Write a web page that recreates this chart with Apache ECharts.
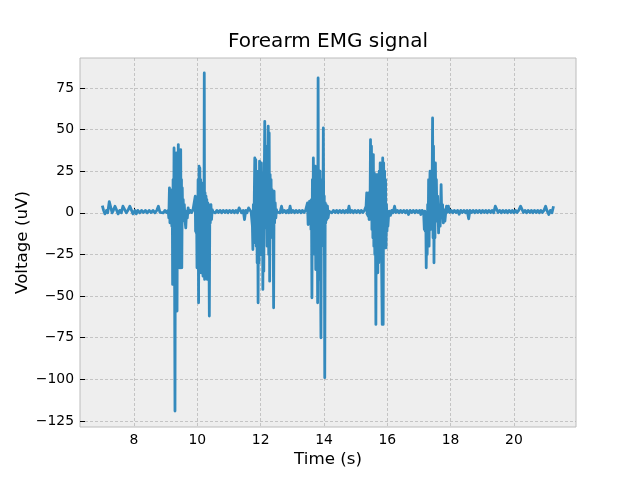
<!DOCTYPE html>
<html>
<head>
<meta charset="utf-8">
<title>Forearm EMG signal</title>
<script src="https://cdn.jsdelivr.net/npm/echarts@6/dist/echarts.min.js"></script>
<style>
html, body { margin: 0; padding: 0; background: #fff; }
#main { width: 640px; height: 480px; }
</style>
</head>
<body>
<div id="main"></div>
<script>
var xTicks = [8, 10, 12, 14, 16, 18, 20];
var yTicks = [-125, -100, -75, -50, -25, 0, 25, 50, 75];

// [time (s), voltage (uV)], rest stretches and bursts
var rest1 = [[7.00,4.4],[7.04,1.5],[7.08,-0.6],[7.13,1.5],[7.17,0],[7.22,6.8],[7.27,6.6],[7.31,0],[7.35,1.5],
	[7.40,4],[7.46,4],[7.50,-0.6],[7.55,1.5],[7.60,0],[7.65,4],[7.71,4],[7.76,0],[7.81,1.5],[7.87,4],[7.92,4],
	[7.97,-0.6],[8.03,1.5],[8.07,-0.6],[8.12,1.5],[8.18,0],[8.24,1.5],[8.30,0.2],[8.36,1.5],[8.42,0],[8.48,1.5],
	[8.54,0.2],[8.60,1.5],[8.66,0],[8.72,1.5],[8.77,4],[8.82,0.3],[8.87,1.5],[8.93,0],[8.98,1.5],[9.03,0.2],[9.08,1.5]];
var burst1 = [[9.10,-3],[9.12,15],[9.135,-6],[9.15,14],[9.165,-5],[9.18,12],[9.195,-8],[9.21,10],[9.22,-43],
	[9.235,20],[9.25,-30],[9.265,39],[9.28,-20],[9.295,-119],[9.31,30],[9.325,-40],[9.335,36],[9.35,-25],[9.36,-59],
	[9.375,25],[9.39,-30],[9.40,41],[9.415,-20],[9.425,35],[9.44,-33],[9.455,30],[9.465,-33],[9.475,38],[9.49,-25],
	[9.50,20],[9.51,-33],[9.525,15],[9.54,-5],[9.555,8],[9.57,-2],[9.59,5],[9.61,-4],[9.635,-9],[9.66,1],[9.685,-3],[9.71,3]];
var rest2 = [[9.74,0],[9.78,1.5],[9.82,0.2],[9.86,1.5],[9.90,0.5]];
var burst2 = [[9.92,1],[9.935,10],[9.945,-11],[9.955,9],[9.965,-12],[9.975,8],[9.99,-33],[10.0,5],[10.01,-20],
	[10.025,20],[10.04,-54],[10.055,28],[10.07,-25],[10.08,27],[10.095,-28],[10.105,20],[10.12,-36],[10.135,18],
	[10.15,-28],[10.165,15],[10.18,-38],[10.195,10],[10.21,-20],[10.22,84],[10.23,-40],[10.245,12],[10.26,-38],
	[10.275,10],[10.29,-30],[10.30,8],[10.315,-40],[10.33,6],[10.345,-20],[10.36,5],[10.38,-62],[10.395,4],
	[10.41,-6],[10.43,5],[10.45,-4],[10.47,2],[10.50,0.5]];
var rest3 = [[10.52,1.5],[10.57,0],[10.62,1.5],[10.67,0.2],[10.72,1.5],[10.77,0],[10.82,1.5],[10.87,0.2],[10.92,1.5],
	[10.97,0],[11.02,1.5],[11.07,0.2],[11.12,1.5],[11.17,0],[11.22,1.5],[11.27,0],[11.32,3],[11.36,3],[11.40,0],
	[11.45,1.5],[11.49,-4],[11.53,1.5],[11.57,0],[11.62,3],[11.66,2],[11.70,0.5]];
var burst3 = [[11.72,1],[11.74,-8],[11.755,-22],[11.77,5],[11.785,-18],[11.80,10],[11.815,33],[11.83,-15],
	[11.845,32],[11.86,-20],[11.875,25],[11.89,-30],[11.905,20],[11.92,-54],[11.935,25],[11.95,-30],[11.965,31],
	[11.98,-20],[11.995,28],[12.01,-25],[12.025,30],[12.04,-20],[12.055,24],[12.07,-46],[12.085,15],[12.10,-35],
	[12.115,20],[12.13,55],[12.145,-9],[12.16,40],[12.175,-5],[12.19,15],[12.205,-20],[12.22,10],[12.24,52],
	[12.255,-25],[12.27,48],[12.285,-41],[12.30,23],[12.315,-15],[12.33,20],[12.345,-10],[12.36,14],[12.375,-8],
	[12.39,10],[12.41,-57],[12.425,13],[12.44,-6],[12.46,6],[12.48,-3],[12.50,2],[12.52,0.5]];
var rest4 = [[12.56,1.5],[12.61,0],[12.66,4],[12.70,0.2],[12.75,1.5],[12.80,0],[12.85,1.5],[12.89,0],[12.93,4],
	[12.97,0.2],[13.02,1.5],[13.07,0],[13.12,1.5],[13.17,0.2],[13.22,1.5],[13.27,0],[13.32,1.5],[13.37,0.2],[13.42,1.5]];
var burst4 = [[13.46,1],[13.48,6],[13.50,-7],[13.515,5],[13.53,-6],[13.545,7],[13.56,-5],[13.575,4],[13.59,-10],
	[13.605,8],[13.62,-51],[13.635,20],[13.65,-20],[13.665,33],[13.68,-15],[13.695,25],[13.71,-25],[13.725,28],
	[13.74,-34],[13.755,20],[13.77,-25],[13.785,15],[13.80,-54],[13.815,81],[13.83,-40],[13.845,20],[13.86,-30],
	[13.875,25],[13.89,-25],[13.905,-75],[13.92,15],[13.935,-20],[13.95,20],[13.965,-15],[13.98,51],[13.995,-10],
	[14.01,10],[14.025,-99],[14.04,6],[14.055,-6],[14.07,5],[14.09,-4],[14.11,4],[14.13,-3],[14.16,1]];
var rest5 = [[14.20,1.5],[14.25,0],[14.30,1.5],[14.35,0.2],[14.40,1.5],[14.45,0],[14.50,1.5],[14.55,0.2],[14.60,1.5],
	[14.65,0],[14.70,1.5],[14.75,0.2],[14.79,4],[14.83,0.2],[14.88,1.5],[14.93,0],[14.98,1.5],[15.03,0.2],[15.08,1.5],
	[15.13,0],[15.18,1.5],[15.23,0.2],[15.28,1.5]];
var burst5 = [[15.30,1],[15.33,4],[15.35,12],[15.365,-1],[15.38,11],[15.395,-2],[15.41,12],[15.425,-4],[15.44,10],
	[15.455,0],[15.47,44],[15.485,-4],[15.50,40],[15.515,-10],[15.53,24],[15.545,-15],[15.56,35],[15.575,-20],
	[15.59,24],[15.605,-25],[15.62,20],[15.64,-67],[15.655,23],[15.67,-20],[15.685,23],[15.70,-36],[15.715,20],
	[15.73,-30],[15.745,25],[15.76,-20],[15.775,30],[15.79,-25],[15.805,28],[15.82,-30],[15.84,-67],[15.855,33],
	[15.87,-67],[15.885,30],[15.90,-20],[15.915,25],[15.93,-21],[15.945,20],[15.96,-21],[15.975,5],[15.99,-11],
	[16.005,-4],[16.02,-8],[16.04,-2],[16.06,1]];
var rest6 = [[16.10,-1.5],[16.14,1.5],[16.18,0],[16.23,4],[16.27,0.2],[16.32,1.5],[16.37,0],[16.42,1.5],[16.47,0.2],
	[16.52,1.5],[16.57,0],[16.62,1.5],[16.67,-1],[16.72,1.5],[16.77,0.2],[16.82,1.5],[16.87,0],[16.92,1.5],
	[16.97,0.2],[17.02,1.5],[17.06,-1],[17.10,1.5]];
var burst6 = [[17.12,1],[17.15,-1],[17.17,-10],[17.185,1],[17.20,-11],[17.215,0],[17.23,-33],[17.245,-5],
	[17.26,-25],[17.275,5],[17.29,-15],[17.305,20],[17.32,-20],[17.335,10],[17.35,25],[17.365,-10],[17.38,15],
	[17.40,-5],[17.415,10],[17.43,57],[17.445,-15],[17.46,40],[17.475,-30],[17.49,20],[17.505,-15],[17.52,30],
	[17.535,-5],[17.55,20],[17.57,-5],[17.59,10],[17.62,-12],[17.645,5],[17.67,-8],[17.70,17],[17.72,-2],
	[17.745,5],[17.77,-6],[17.79,2],[17.82,-5],[17.85,1],[17.87,4],[17.90,0.5]];
var rest7 = [[17.93,4],[17.97,0.2],[18.02,1.5],[18.07,0],[18.12,1.5],[18.17,0.2],[18.22,1.5],[18.27,-0.8],[18.32,1.5],
	[18.37,0.2],[18.42,1.5],[18.47,0],[18.52,1.5],[18.57,-3.6],[18.61,1.5],[18.66,0.2],[18.71,1.5],[18.76,0],
	[18.81,1.5],[18.86,0.2],[18.91,1.5],[18.96,0],[19.01,1.5],[19.06,0.2],[19.11,1.5],[19.16,0],[19.21,1.5],
	[19.26,0.2],[19.31,1.5],[19.36,0],[19.41,4],[19.45,4],[19.50,0.2],[19.55,1.5],[19.60,0],[19.65,1.5],[19.70,0.2],
	[19.75,1.5],[19.80,0],[19.85,1.5],[19.90,0.2],[19.95,1.5],[20.00,0],[20.05,1.5],[20.10,0.2],[20.15,1.5],
	[20.21,4],[20.25,4],[20.30,0.2],[20.35,1.5],[20.40,0],[20.45,1.5],[20.50,0.2],[20.55,1.5],[20.60,0],[20.65,1.5],
	[20.70,0.2],[20.75,1.5],[20.80,0],[20.85,1.5],[20.90,0.2],[20.95,1.5],[21.00,4],[21.04,1.5],[21.10,-1],
	[21.15,1.5],[21.20,0],[21.25,4]];

var signal = [].concat(rest1, burst1, rest2, burst2, rest3, burst3, rest4, burst4,
	rest5, burst5, rest6, burst6, rest7);

var font = 'DejaVu Sans';
var myChart = echarts.init(document.getElementById('main'));

option = {
	animation : false,
	title : {
		text : 'Forearm EMG signal',
		left : 328,
		top : 32,
		textAlign : 'center',
		padding : 0,
		textStyle : { fontFamily : font, fontSize : 20, fontWeight : 'normal', color : '#000' }
	},
	grid : {
		left : 80,
		right : 64,
		top : 58,
		bottom : 53,
		show : true,
		backgroundColor : '#eeeeee',
		borderColor : '#bcbcbc',
		borderWidth : 1
	},
	xAxis : {
		type : 'value',
		min : 6.295,
		max : 21.96,
		name : 'Time (s)',
		nameLocation : 'middle',
		nameGap : 24,
		nameMoveOverlap : false,
		nameTextStyle : { fontFamily : font, fontSize : 16.7, color : '#000' },
		axisLine : { show : false },
		axisTick : { show : true, inside : true, length : 5, customValues : xTicks,
			lineStyle : { color : '#000', width : 1 } },
		axisLabel : { customValues : xTicks, margin : 6, fontFamily : font, fontSize : 13.9, color : '#000' },
		splitLine : { show : true, lineStyle : { color : '#b2b2b2', width : 0.7, type : [3, 2] } }
	},
	yAxis : {
		type : 'value',
		min : -128.6,
		max : 93,
		name : 'Voltage (uV)',
		nameLocation : 'middle',
		nameGap : 49,
		nameMoveOverlap : false,
		nameTextStyle : { fontFamily : font, fontSize : 16.7, color : '#000' },
		axisLine : { show : false },
		axisTick : { show : true, inside : true, length : 5, customValues : yTicks,
			lineStyle : { color : '#000', width : 1 } },
		axisLabel : {
			customValues : yTicks,
			margin : 6,
			fontFamily : font,
			fontSize : 13.9,
			color : '#000',
			formatter : function(v) { return String(v).replace('-', '\u2212'); }
		},
		splitLine : { show : true, lineStyle : { color : '#b2b2b2', width : 0.7, type : [3, 2] } }
	},
	series : [ {
		type : 'line',
		data : signal,
		showSymbol : false,
		symbol : 'none',
		lineStyle : { color : '#348ABD', width : 2.8, join : 'round' }
	} ]
};
myChart.setOption(option);
</script>
</body>
</html>
